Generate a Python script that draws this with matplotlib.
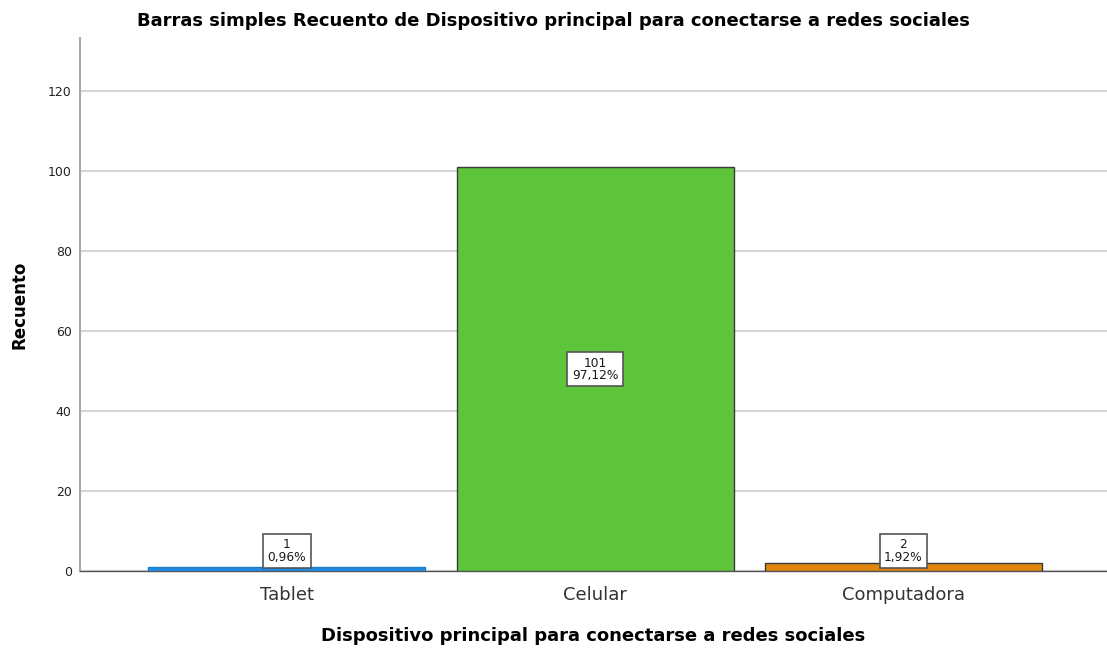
import matplotlib
matplotlib.use("Agg")
import matplotlib.pyplot as plt

plt.rcParams['font.family'] = ['DejaVu Sans']

# datos
categorias = ['Tablet', 'Celular', 'Computadora']
recuento = [1, 101, 2]
colores = ['#1e8ce3', '#5ec43a', '#e0860f']
bordes = ['#1a7ccc', '#3a3a3a', '#3a3a3a']

total = sum(recuento)
porcentajes = [v / total * 100 for v in recuento]

fig = plt.figure(figsize=(11.07, 6.5), dpi=100)
ax = fig.add_axes([0.0723, 0.1215, 0.9277, 0.82])

x = list(range(len(categorias)))
ax.bar(x, recuento, width=0.898, color=colores, edgecolor=bordes, linewidth=1.0, zorder=3)

# etiquetas en caja
for xi, v, p in zip(x, recuento, porcentajes):
    y = max(v / 2, 5)
    etiqueta = f"{v}\n{p:.2f}%".replace('.', ',')
    ax.text(xi, y, etiqueta, ha='center', va='center', fontsize=8.8, linespacing=0.92,
            color='#1a1a1a', zorder=5,
            bbox=dict(boxstyle='square,pad=0.38', facecolor='white', edgecolor='#555555', linewidth=1.2))

ax.set_xlim(-0.67, 2.66)
ax.set_ylim(0, 133.3)
ax.set_yticks([0, 20, 40, 60, 80, 100, 120])
ax.set_xticks(x)
ax.set_xticklabels(categorias, fontsize=13, color='#333333')
ax.tick_params(axis='y', length=0, labelsize=9, pad=6, labelcolor='#222222')
ax.tick_params(axis='x', length=0, pad=11)

ax.yaxis.grid(True, color='#d4d4d4', linewidth=1.5, zorder=0)
ax.set_axisbelow(True)

for s in ['top', 'right']:
    ax.spines[s].set_visible(False)
ax.spines['left'].set_color('#a8a8a8')
ax.spines['left'].set_linewidth(1.5)
ax.spines['bottom'].set_color('#555555')
ax.spines['bottom'].set_linewidth(1.0)

ax.set_title('Barras simples Recuento de Dispositivo principal para conectarse a redes sociales',
             fontsize=13, fontweight='bold', pad=9, x=0.461)
ax.set_xlabel('Dispositivo principal para conectarse a redes sociales', fontsize=13,
              fontweight='bold', labelpad=16)
ax.set_ylabel('Recuento', fontsize=12, fontweight='bold', labelpad=14)

fig.savefig('out.png', dpi=100)
